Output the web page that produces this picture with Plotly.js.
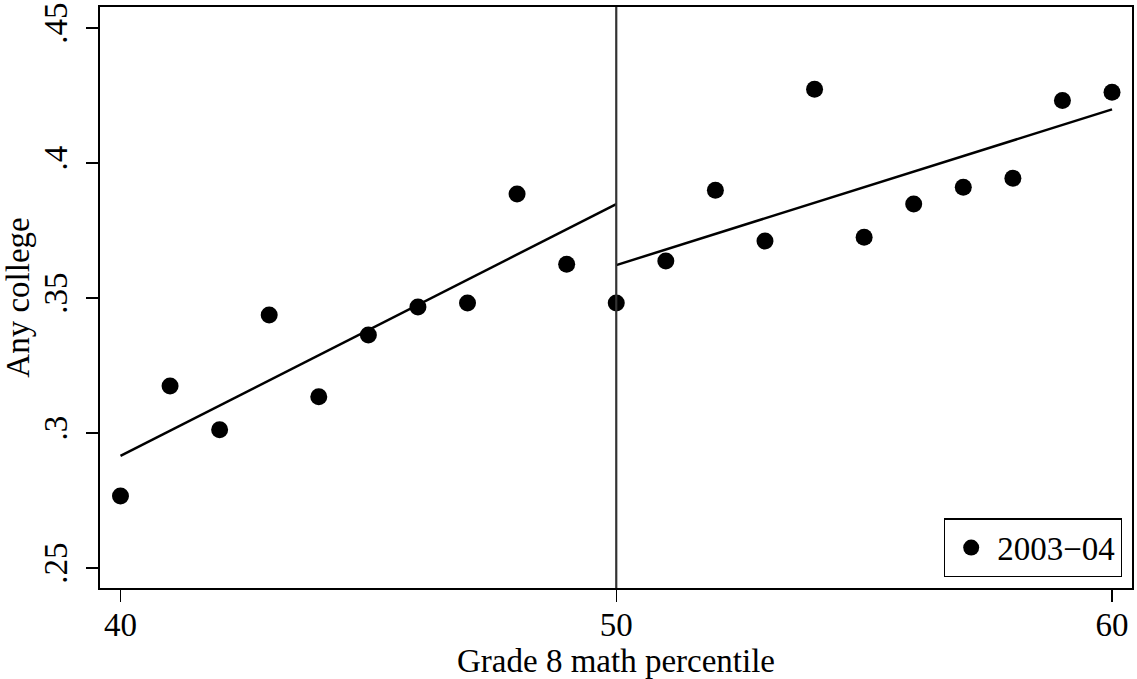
<!DOCTYPE html>
<html>
<head>
<meta charset="utf-8">
<script src="https://cdn.plot.ly/plotly-3.0.1.min.js"></script>
<style>html,body{margin:0;padding:0;background:#fff;}#chart{width:1137px;height:679px;}</style>
</head>
<body>
<div id="chart"></div>
<script>
// Data
const percentile = [40,41,42,43,44,45,46,47,48,49,50,51,52,53,54,55,56,57,58,59,60];
const anyCollege = [0.2767,0.3174,0.3012,0.3437,0.3134,0.3363,0.3467,0.3482,0.3885,0.3625,0.3482,
                    0.3637,0.3899,0.3711,0.4273,0.3725,0.3848,0.3910,0.3944,0.4232,0.4262];
const fitLeftX = [40, 50];
const fitLeftY = [0.2915, 0.3848];
const fitRightX = [50, 60];
const fitRightY = [0.3622, 0.4199];
const cutoff = 50;
const seriesName = '2003\u221204';
const xTicks = [40, 50, 60];
const yTicks = [0.25, 0.3, 0.35, 0.4, 0.45];
const yTickText = ['.25', '.3', '.35', '.4', '.45'];

const fontFam = '"Liberation Serif", "DejaVu Serif", serif';
const fs = 33;

const traces = [
  {x: percentile, y: anyCollege, type: 'scatter', mode: 'markers', name: seriesName,
   marker: {color: '#000', size: 17}, showlegend: true},
  {x: fitLeftX, y: fitLeftY, type: 'scatter', mode: 'lines',
   line: {color: '#000', width: 2.5}, showlegend: false, hoverinfo: 'skip'},
  {x: fitRightX, y: fitRightY, type: 'scatter', mode: 'lines',
   line: {color: '#000', width: 2.5}, showlegend: false, hoverinfo: 'skip'}
];

const layout = {
  width: 1137, height: 679,
  paper_bgcolor: '#fff', plot_bgcolor: '#fff',
  margin: {l: 99.5, r: 5.3, t: 6.5, b: 90.7},
  font: {family: fontFam, size: fs, color: '#000'},
  xaxis: {
    range: [39.587, 60.403], tickvals: xTicks, ticktext: xTicks.map(String),
    showgrid: false, zeroline: false, showline: true, linecolor: '#000', linewidth: 1.6, mirror: true,
    ticks: 'outside', ticklen: 12, tickwidth: 1.5, tickcolor: '#000', ticklabelstandoff: -5,
    tickfont: {family: fontFam, size: fs, color: '#000'},
    title: {text: 'Grade 8 math percentile', font: {family: fontFam, size: fs, color: '#000'}, standoff: 2}
  },
  yaxis: {
    range: [0.2426, 0.4578], tickvals: yTicks, ticktext: yTickText, tickangle: -90,
    showgrid: false, zeroline: false, showline: true, linecolor: '#000', linewidth: 1.6, mirror: true,
    ticks: 'outside', ticklen: 12, tickwidth: 1.5, tickcolor: '#000', ticklabelstandoff: 6,
    tickfont: {family: fontFam, size: fs, color: '#000'},
    title: {text: 'Any college', font: {family: fontFam, size: fs, color: '#000'}, standoff: 6}
  },
  shapes: [{type: 'line', xref: 'x', yref: 'paper', x0: cutoff, x1: cutoff, y0: 0, y1: 1,
            line: {color: '#333', width: 2.2}}],
  legend: {x: 0.9903, y: 0.0182, xanchor: 'right', yanchor: 'bottom',
           bordercolor: '#000', borderwidth: 1.2, bgcolor: '#fff',
           font: {family: fontFam, size: fs, color: '#000'}, itemwidth: 42},
  showlegend: true
};

Plotly.newPlot('chart', traces, layout, {staticPlot: true, displayModeBar: false});
</script>
</body>
</html>
